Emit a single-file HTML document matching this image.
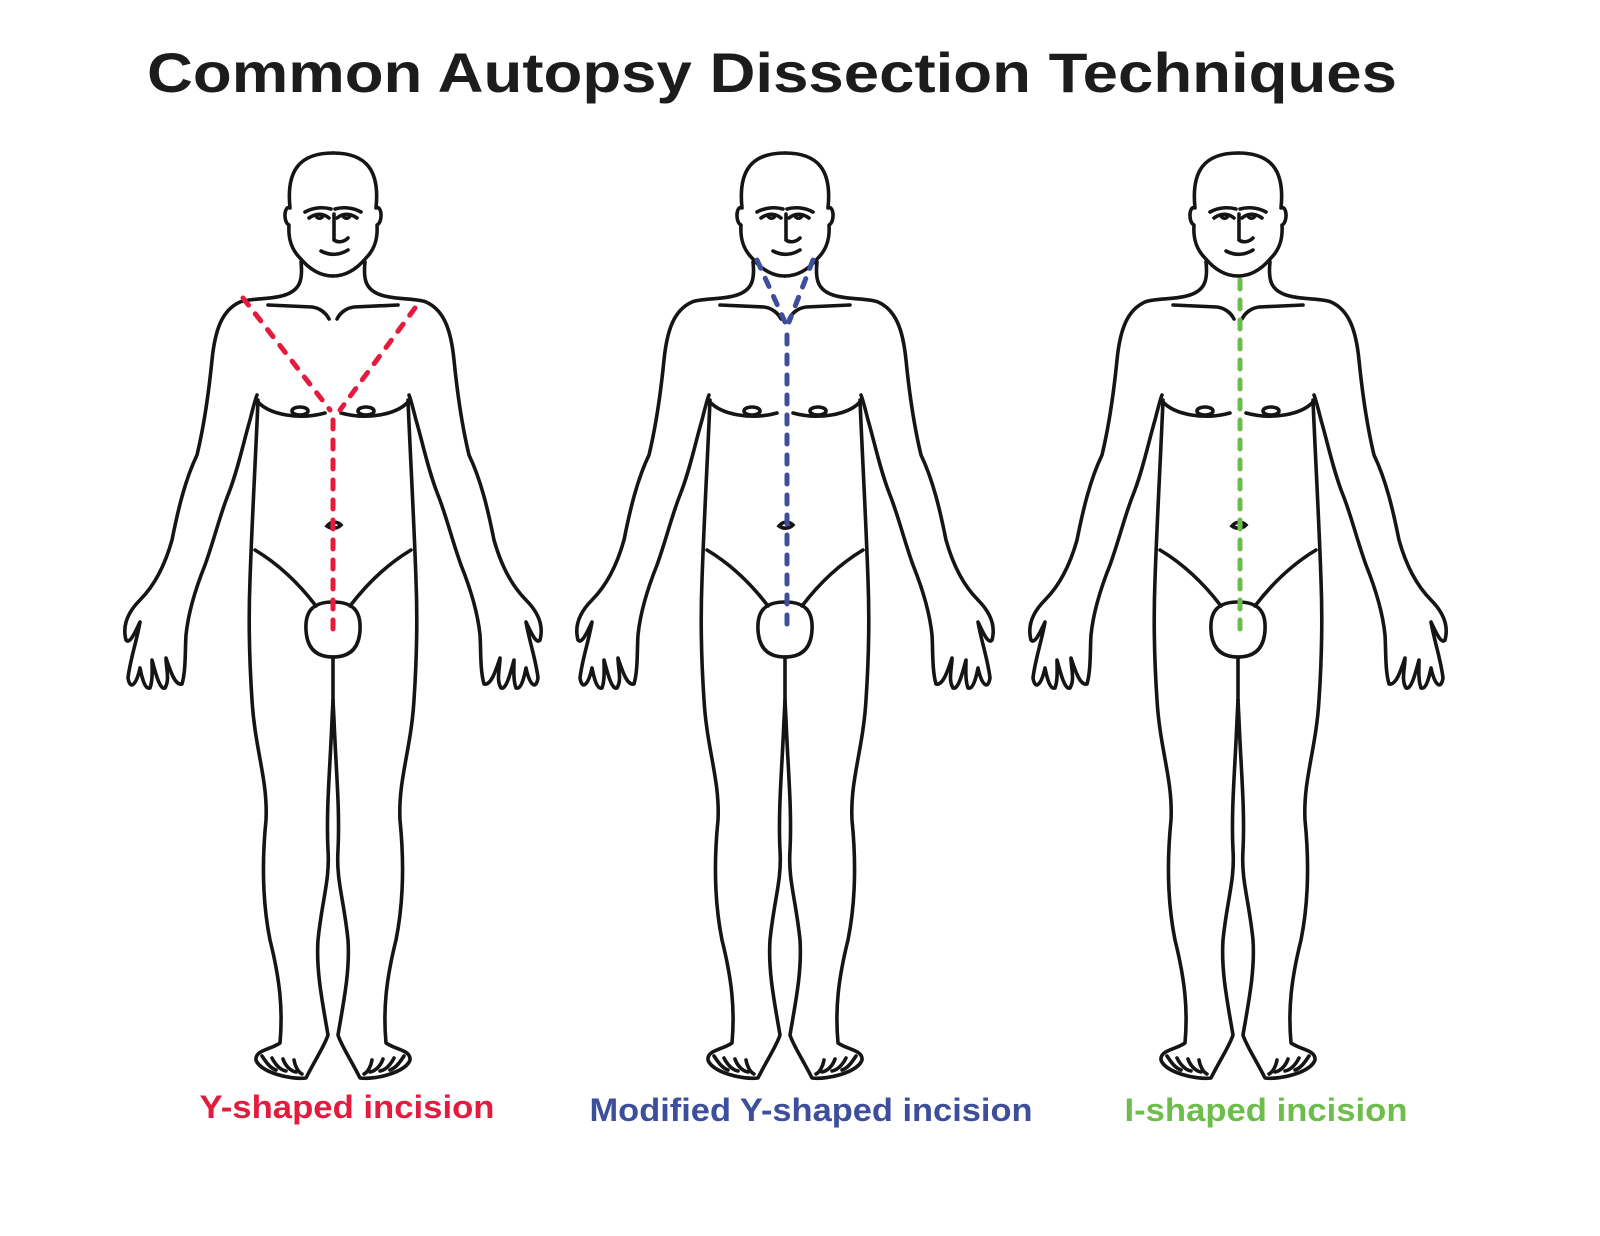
<!DOCTYPE html>
<html><head><meta charset="utf-8"><style>
html,body{margin:0;padding:0;background:#fff;}
svg{display:block;}
</style></head><body>
<svg width="1600" height="1236" viewBox="0 0 1600 1236" xmlns="http://www.w3.org/2000/svg">
<defs>
<g id="half" fill="none" stroke="#151515" stroke-width="3.6" stroke-linecap="round" stroke-linejoin="round">
  <path d="M333 153 C300 153 286 170 290 208 C284 205 283 222 289 225 C288 240 292 250 300 258 C310 270 321 276 333 276"/>
  <path d="M301 262 C303 280 300 290 285 295 C270 300 250 298 240 302 C222 310 215 330 212 360 C208 400 203 430 197 455 C185 480 178 510 172 540 C165 565 155 585 140 600 C128 612 122 625 126 640 C130 645 136 630 140 622 C137 640 130 660 128 678 C130 690 136 686 140 668 C142 678 145 690 150 688 C153 680 152 668 152 660 C156 675 160 690 165 688 C170 680 166 668 166 658 C170 670 175 686 182 684 C186 670 185 650 186 635 C188 615 195 590 205 565 C214 540 220 515 228 495 C238 470 244 440 250 420 C253 408 255 400 257 395"/>
  <path d="M258 400 C256 450 252 520 250 580 C248 630 250 670 252 700 C255 750 268 780 266 820 C262 860 262 900 270 940 C280 980 283 1010 280 1043 C270 1050 255 1050 256 1060 C260 1072 290 1080 306 1078 C315 1060 325 1045 328 1035 C322 1000 316 970 318 940 C322 900 330 880 328 850 C326 810 330 770 332 720 L333 700"/>
  <path d="M262 1056 C266 1062 270 1068 276 1070 M272 1058 C275 1064 280 1070 286 1071 M283 1059 C285 1065 290 1071 296 1072 M294 1060 C295 1066 298 1072 302 1074"/>
  <path d="M268 305 L312 307 C320 308 326 313 329 319"/>
  <path d="M258 402 C270 415 300 420 325 413"/>
  <ellipse cx="300" cy="411" rx="8" ry="4"/>
  <path d="M255 550 C280 565 300 585 316 606"/>
  <path d="M333 602 C312 602 305 612 306 630 C307 650 318 657 333 657"/>
  <path d="M305 212 C314 207 324 207 331 209"/>
  <path d="M309 218 C316 213 323 213 329 218 M316 216 C318 219 321 219 323 216"/>
</g>
<g id="body">
  <use href="#half"/>
  <use href="#half" transform="translate(666,0) scale(-1,1)"/>
  <g fill="none" stroke="#151515" stroke-width="3.6" stroke-linecap="round">
    <path d="M334 214 L334 240 C338 243 344 242 348 238"/>
    <path d="M321 251 C330 256 340 255 348 250"/>
    <path d="M327 526 C331 521 337 521 341 525 C337 529 331 529 327 526 Z"/>
    <path d="M333 657 L333 700"/>
  </g>
</g>
</defs>
<text x="772" y="92" text-anchor="middle" font-family="Liberation Sans, sans-serif" font-weight="bold" font-size="56" fill="#1c1c1c" textLength="1250" lengthAdjust="spacingAndGlyphs">Common Autopsy Dissection Techniques</text>

<use href="#body"/>
<use href="#body" transform="translate(452,0)"/>
<use href="#body" transform="translate(905,0)"/>

<g fill="none" stroke-width="5" stroke-linecap="round" stroke-dasharray="9 11">
  <path stroke="#e31b3d" d="M243 298 L330 410 M415 308 L340 410 M333 420 L333 630"/>
  <path stroke="#3d4f9c" d="M757 260 L785 322 M813 260 L789 322 M787 335 L787 625"/>
  <path stroke="#6cbd4a" d="M1240 280 L1240 630"/>
</g>

<g font-family="Liberation Sans, sans-serif" font-weight="bold" font-size="32">
  <text x="347" y="1118" text-anchor="middle" fill="#e31b3d" textLength="295" lengthAdjust="spacingAndGlyphs">Y-shaped incision</text>
  <text x="811" y="1121" text-anchor="middle" fill="#3d4f9c" textLength="443" lengthAdjust="spacingAndGlyphs">Modified Y-shaped incision</text>
  <text x="1266" y="1121" text-anchor="middle" fill="#6cbd4a" textLength="283" lengthAdjust="spacingAndGlyphs">I-shaped incision</text>
</g>
</svg>
</body></html>
